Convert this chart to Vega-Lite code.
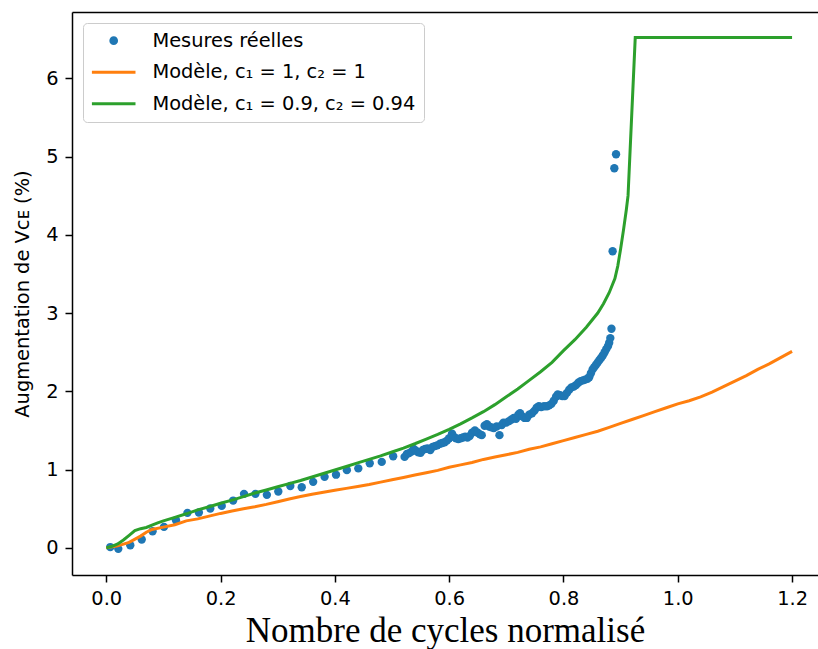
{
  "$schema": "https://vega.github.io/schema/vega-lite/v6.json",
  "width": 746,
  "height": 563,
  "autosize": "none",
  "padding": {"left": 72, "top": 12, "right": 0, "bottom": 74},
  "background": "white",
  "config": {
    "view": {"stroke": null},
    "axis": {
      "grid": false,
      "domainColor": "black",
      "domainWidth": 1.5,
      "tickColor": "black",
      "tickWidth": 1.5,
      "tickSize": 7,
      "labelFont": "DejaVu Sans",
      "labelFontSize": 19.4,
      "labelColor": "black",
      "labelPadding": 7,
      "titleColor": "black",
      "titleFontWeight": "normal"
    }
  },
  "datasets": {
    "mesures": [
      {"x":0.007,"y":0.01},{"x":0.021,"y":-0.013},{"x":0.042,"y":0.033},{"x":0.062,"y":0.106},{"x":0.081,"y":0.212},
      {"x":0.101,"y":0.268},{"x":0.122,"y":0.352},{"x":0.142,"y":0.447},{"x":0.162,"y":0.451},{"x":0.182,"y":0.502},
      {"x":0.202,"y":0.536},{"x":0.222,"y":0.604},{"x":0.241,"y":0.69},{"x":0.261,"y":0.69},{"x":0.281,"y":0.677},
      {"x":0.301,"y":0.72},{"x":0.322,"y":0.79},{"x":0.342,"y":0.774},{"x":0.362,"y":0.843},{"x":0.382,"y":0.907},
      {"x":0.402,"y":0.935},{"x":0.421,"y":0.993},{"x":0.441,"y":1.015},{"x":0.461,"y":1.08},{"x":0.482,"y":1.098},
      {"x":0.502,"y":1.17},{"x":0.522,"y":1.162},{"x":0.526,"y":1.2},{"x":0.53,"y":1.21},{"x":0.534,"y":1.23},
      {"x":0.538,"y":1.265},{"x":0.542,"y":1.24},{"x":0.546,"y":1.22},{"x":0.55,"y":1.215},{"x":0.554,"y":1.25},
      {"x":0.558,"y":1.264},{"x":0.562,"y":1.27},{"x":0.567,"y":1.25},{"x":0.571,"y":1.29},{"x":0.575,"y":1.3},
      {"x":0.579,"y":1.31},{"x":0.584,"y":1.33},{"x":0.588,"y":1.34},{"x":0.592,"y":1.35},{"x":0.596,"y":1.37},
      {"x":0.6,"y":1.4},{"x":0.605,"y":1.46},{"x":0.608,"y":1.42},{"x":0.612,"y":1.4},{"x":0.616,"y":1.39},
      {"x":0.62,"y":1.4},{"x":0.624,"y":1.41},{"x":0.628,"y":1.42},{"x":0.632,"y":1.41},{"x":0.636,"y":1.43},
      {"x":0.64,"y":1.47},{"x":0.645,"y":1.5},{"x":0.65,"y":1.47},{"x":0.654,"y":1.45},{"x":0.657,"y":1.44},
      {"x":0.662,"y":1.56},{"x":0.666,"y":1.58},{"x":0.67,"y":1.55},{"x":0.674,"y":1.54},{"x":0.678,"y":1.53},
      {"x":0.683,"y":1.55},{"x":0.688,"y":1.44},{"x":0.692,"y":1.57},{"x":0.695,"y":1.6},{"x":0.7,"y":1.6},
      {"x":0.705,"y":1.62},{"x":0.709,"y":1.64},{"x":0.713,"y":1.66},{"x":0.717,"y":1.65},{"x":0.721,"y":1.7},
      {"x":0.724,"y":1.72},{"x":0.728,"y":1.68},{"x":0.732,"y":1.66},{"x":0.736,"y":1.66},{"x":0.74,"y":1.7},
      {"x":0.745,"y":1.72},{"x":0.749,"y":1.75},{"x":0.753,"y":1.79},{"x":0.757,"y":1.81},{"x":0.761,"y":1.8},
      {"x":0.766,"y":1.81},{"x":0.771,"y":1.81},{"x":0.775,"y":1.82},{"x":0.779,"y":1.84},{"x":0.783,"y":1.88},
      {"x":0.787,"y":1.93},{"x":0.79,"y":1.96},{"x":0.794,"y":1.95},{"x":0.798,"y":1.94},{"x":0.802,"y":1.94},
      {"x":0.806,"y":1.98},{"x":0.81,"y":2.02},{"x":0.814,"y":2.05},{"x":0.818,"y":2.06},{"x":0.822,"y":2.08},
      {"x":0.826,"y":2.11},{"x":0.83,"y":2.13},{"x":0.834,"y":2.14},{"x":0.838,"y":2.15},{"x":0.842,"y":2.16},
      {"x":0.845,"y":2.18},{"x":0.848,"y":2.23},{"x":0.851,"y":2.28},{"x":0.854,"y":2.31},{"x":0.857,"y":2.34},
      {"x":0.86,"y":2.37},{"x":0.863,"y":2.4},{"x":0.866,"y":2.43},{"x":0.869,"y":2.46},{"x":0.872,"y":2.5},
      {"x":0.875,"y":2.54},{"x":0.878,"y":2.58},{"x":0.88,"y":2.62},{"x":0.882,"y":2.68},{"x":0.884,"y":2.8},
      {"x":0.886,"y":3.79},{"x":0.889,"y":4.85},{"x":0.892,"y":5.03}
    ],
    "modele1": [
      {"x":0,"y":0},{"x":0.02,"y":0.025},{"x":0.04,"y":0.07},{"x":0.06,"y":0.15},{"x":0.07,"y":0.2},
      {"x":0.08,"y":0.235},{"x":0.1,"y":0.265},{"x":0.12,"y":0.295},{"x":0.14,"y":0.345},{"x":0.16,"y":0.37},
      {"x":0.18,"y":0.405},{"x":0.2,"y":0.44},{"x":0.22,"y":0.47},{"x":0.24,"y":0.5},{"x":0.26,"y":0.525},
      {"x":0.28,"y":0.555},{"x":0.3,"y":0.59},{"x":0.32,"y":0.625},{"x":0.34,"y":0.655},{"x":0.36,"y":0.685},
      {"x":0.38,"y":0.71},{"x":0.4,"y":0.735},{"x":0.42,"y":0.76},{"x":0.44,"y":0.785},{"x":0.46,"y":0.81},
      {"x":0.48,"y":0.84},{"x":0.5,"y":0.87},{"x":0.52,"y":0.9},{"x":0.54,"y":0.93},{"x":0.56,"y":0.96},
      {"x":0.58,"y":0.99},{"x":0.6,"y":1.03},{"x":0.62,"y":1.06},{"x":0.64,"y":1.09},{"x":0.66,"y":1.13},
      {"x":0.68,"y":1.16},{"x":0.7,"y":1.19},{"x":0.72,"y":1.22},{"x":0.74,"y":1.26},{"x":0.76,"y":1.29},
      {"x":0.78,"y":1.33},{"x":0.8,"y":1.37},{"x":0.82,"y":1.41},{"x":0.84,"y":1.45},{"x":0.86,"y":1.49},
      {"x":0.88,"y":1.54},{"x":0.9,"y":1.59},{"x":0.92,"y":1.64},{"x":0.94,"y":1.69},{"x":0.96,"y":1.74},
      {"x":0.98,"y":1.79},{"x":1.0,"y":1.84},{"x":1.02,"y":1.88},{"x":1.04,"y":1.93},{"x":1.06,"y":1.99},
      {"x":1.08,"y":2.06},{"x":1.1,"y":2.13},{"x":1.12,"y":2.2},{"x":1.14,"y":2.28},{"x":1.16,"y":2.35},
      {"x":1.18,"y":2.43},{"x":1.2,"y":2.51}
    ],
    "modele2": [
      {"x":0,"y":0},{"x":0.01,"y":0.02},{"x":0.02,"y":0.05},{"x":0.03,"y":0.1},{"x":0.04,"y":0.16},
      {"x":0.05,"y":0.22},{"x":0.06,"y":0.245},{"x":0.07,"y":0.26},{"x":0.08,"y":0.29},{"x":0.09,"y":0.32},
      {"x":0.1,"y":0.345},{"x":0.12,"y":0.39},{"x":0.14,"y":0.435},{"x":0.16,"y":0.485},{"x":0.18,"y":0.525},
      {"x":0.2,"y":0.57},{"x":0.22,"y":0.61},{"x":0.24,"y":0.655},{"x":0.26,"y":0.7},{"x":0.28,"y":0.74},
      {"x":0.3,"y":0.78},{"x":0.32,"y":0.82},{"x":0.34,"y":0.86},{"x":0.36,"y":0.905},{"x":0.38,"y":0.95},
      {"x":0.4,"y":0.995},{"x":0.42,"y":1.04},{"x":0.44,"y":1.085},{"x":0.46,"y":1.13},{"x":0.48,"y":1.175},
      {"x":0.5,"y":1.225},{"x":0.52,"y":1.275},{"x":0.54,"y":1.33},{"x":0.56,"y":1.39},{"x":0.58,"y":1.45},
      {"x":0.6,"y":1.515},{"x":0.62,"y":1.585},{"x":0.64,"y":1.66},{"x":0.66,"y":1.74},{"x":0.68,"y":1.83},
      {"x":0.7,"y":1.93},{"x":0.72,"y":2.03},{"x":0.74,"y":2.14},{"x":0.76,"y":2.25},{"x":0.78,"y":2.37},
      {"x":0.8,"y":2.52},{"x":0.82,"y":2.66},{"x":0.84,"y":2.82},{"x":0.86,"y":3.0},{"x":0.87,"y":3.12},
      {"x":0.88,"y":3.26},{"x":0.89,"y":3.44},{"x":0.895,"y":3.6},{"x":0.9,"y":3.82},{"x":0.905,"y":4.06},
      {"x":0.91,"y":4.32},{"x":0.913,"y":4.5},{"x":0.9256,"y":6.52},{"x":1.2,"y":6.52}
    ]
  },
  "encoding": {
    "y": {"field": "y", "type": "quantitative",
      "scale": {"domain": [-0.347, 6.847], "nice": false, "zero": false},
      "axis": {"values": [0, 1, 2, 3, 4, 5, 6], "format": "d",
        "title": "Augmentation de Vᴄᴇ (%)", "titleFont": "DejaVu Sans", "titleFontSize": 19.4,
        "titlePadding": 13}}
  },
  "resolve": {"axis": {"x": "independent"}},
  "layer": [
    {
      "data": {"name": "mesures"},
      "mark": {"type": "point", "filled": true, "opacity": 1, "size": 70, "shape": "circle"},
      "encoding": {
        "x": {"field": "x", "type": "quantitative",
          "scale": {"domain": [-0.06, 1.2454], "nice": false, "zero": false},
          "axis": {"orient": "bottom", "values": [0, 0.2, 0.4, 0.6, 0.8, 1.0, 1.2], "format": ".1f",
            "title": "Nombre de cycles normalisé", "titleFont": "Liberation Serif", "titleFontSize": 35,
            "titlePadding": 6}},
        "color": {"datum": "Mesures réelles", "type": "nominal",
          "scale": {"domain": ["Mesures réelles", "Modèle, c₁ = 1, c₂ = 1", "Modèle, c₁ = 0.9, c₂ = 0.94"],
            "range": ["#1f77b4", "#ff7f0e", "#2ca02c"]},
          "legend": {
            "title": null, "orient": "top-left", "offset": 11, "padding": 8,
            "fillColor": "rgba(255,255,255,0.8)", "strokeColor": "#cccccc", "cornerRadius": 4,
            "labelFont": "DejaVu Sans", "labelFontSize": 19.4, "labelColor": "black", "labelOffset": 29,
            "labelLimit": 600, "symbolSize": 1900, "rowPadding": 10.5, "symbolOpacity": 1, "symbolOffset": 13,
            "symbolType": {"expr": "datum.value === 'Mesures réelles' ? 'M-0.2,0A0.2,0.2,0,1,1,0.2,0A0.2,0.2,0,1,1,-0.2,0Z' : 'stroke'"},
            "symbolStrokeColor": {"expr": "scale('color', datum.value)"},
            "symbolStrokeWidth": {"expr": "datum.value === 'Mesures réelles' ? 0 : 3"}
          }}
      }
    },
    {
      "data": {"name": "modele1"},
      "mark": {"type": "line", "strokeWidth": 3},
      "encoding": {
        "x": {"field": "x", "type": "quantitative", "axis": null},
        "color": {"datum": "Modèle, c₁ = 1, c₂ = 1", "type": "nominal"}
      }
    },
    {
      "data": {"name": "modele2"},
      "mark": {"type": "line", "strokeWidth": 3},
      "encoding": {
        "x": {"field": "x", "type": "quantitative",
          "axis": {"orient": "top", "labels": false, "ticks": false, "title": null, "domain": true}},
        "color": {"datum": "Modèle, c₁ = 0.9, c₂ = 0.94", "type": "nominal"}
      }
    }
  ]
}
